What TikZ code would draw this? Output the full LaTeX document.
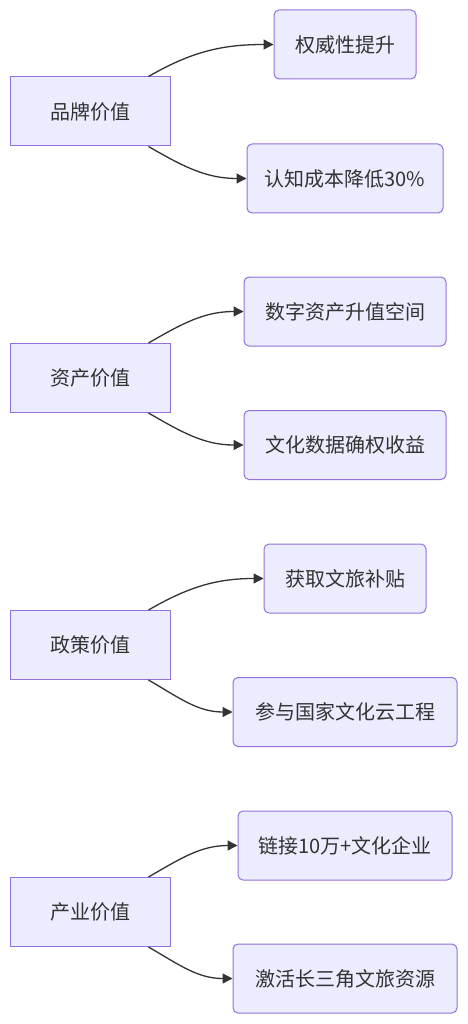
\documentclass[tikz,border=0pt]{standalone}
\usepackage{fontspec}
\setmainfont{Noto Sans CJK SC}
\usetikzlibrary{arrows.meta}
\definecolor{nodefill}{HTML}{ECECFF}
\definecolor{nodeline}{HTML}{9370DB}
\definecolor{ink}{HTML}{333333}
\tikzset{
  src/.style={draw=nodeline, fill=nodefill, line width=1pt, minimum width=160pt, minimum height=69pt, text=ink, font=\fontsize{20pt}{24pt}\selectfont, inner sep=0pt},
  leaf/.style={draw=nodeline, fill=nodefill, line width=1pt, rounded corners=5pt, minimum height=69pt, text=ink, font=\fontsize{20pt}{24pt}\selectfont, inner sep=0pt},
  link/.style={draw=ink, line width=1.3pt, -{Triangle[length=10pt,width=10pt]}}
}
\begin{document}
\begin{tikzpicture}[x=1pt,y=-1pt]
\useasboundingbox (0,0) rectangle (467,1024);
% group 1
\node[src] (A) at (90,111.5) {品牌价值};
\node[leaf, minimum width=142pt] (A1) at (345,44.5) {权威性提升};
\node[leaf, minimum width=196pt] (A2) at (345,178.5) {认知成本降低30\%};
% group 2
\node[src] (B) at (90,378) {资产价值};
\node[leaf, minimum width=202pt] (B1) at (345,311.5) {数字资产升值空间};
\node[leaf, minimum width=202pt] (B2) at (345,445) {文化数据确权收益};
% group 3
\node[src] (C) at (90,645) {政策价值};
\node[leaf, minimum width=162pt] (C1) at (345,578.5) {获取文旅补贴};
\node[leaf, minimum width=224pt] (C2) at (345,712) {参与国家文化云工程};
% group 4
\node[src] (D) at (90,912) {产业价值};
\node[leaf, minimum width=214pt] (D1) at (345,845.5) {链接10万+文化企业};
\node[leaf, minimum width=224pt] (D2) at (345,978.5) {激活长三角文旅资源};
% connectors
\foreach \s in {A,B,C,D}{
  \draw[link] ([xshift=-22pt]\s.north east) to[out=30,in=180] (\s1.west);
  \draw[link] ([xshift=-22pt]\s.south east) to[out=-30,in=180] (\s2.west);
}
\end{tikzpicture}
\end{document}
